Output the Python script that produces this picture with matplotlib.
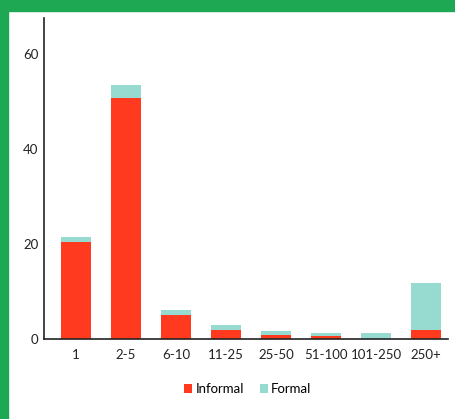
import matplotlib
matplotlib.use("Agg")
import matplotlib.pyplot as plt
from matplotlib.patches import Rectangle
import numpy as np

plt.rcParams['font.family'] = ['Lato', 'DejaVu Sans']

categories = ['1', '2-5', '6-10', '11-25', '25-50', '51-100', '101-250', '250+']
informal = [20.4, 50.7, 5.0, 2.0, 0.85, 0.65, 0.0, 1.9]
formal = [1.1, 2.8, 1.1, 0.95, 0.85, 0.6, 1.3, 9.9]

red = '#FF3A1F'
teal = '#96DAD0'
green = '#1EA853'

W, H = 455, 419
fig = plt.figure(figsize=(W / 100, H / 100), dpi=100)

# green frame on top and left
fig.patches.append(Rectangle((0, 1 - 11 / H), 1, 11 / H, transform=fig.transFigure,
                             color=green, zorder=0))
fig.patches.append(Rectangle((0, 0), 8 / W, 1, transform=fig.transFigure,
                             color=green, zorder=0))

ax = fig.add_axes([44 / W, (H - 339) / H, (448 - 44) / W, (339 - 18) / H])
x = np.arange(len(categories))
ax.bar(x, informal, width=0.6, color=red, label='Informal')
ax.bar(x, formal, width=0.6, bottom=informal, color=teal, label='Formal')

ax.set_xlim(-0.64, 7.44)
ax.set_ylim(0, 67.6)
ax.set_yticks([0, 20, 40, 60])
ax.set_xticks(x)
ax.set_xticklabels(categories)
ax.tick_params(length=0, labelsize=9.5, colors='#222222')
ax.tick_params(axis='y', pad=4)
ax.tick_params(axis='x', pad=7)
for s in ['top', 'right']:
    ax.spines[s].set_visible(False)
for s in ['left', 'bottom']:
    ax.spines[s].set_color('#222222')
    ax.spines[s].set_linewidth(1.2)

fig.legend(loc='center', bbox_to_anchor=(248 / W, 1 - 389 / H), ncol=2, frameon=False,
           handlelength=0.6, handleheight=0.6, handletextpad=0.25, columnspacing=1.2,
           fontsize=9.5)

fig.savefig('out.png', dpi=100)
